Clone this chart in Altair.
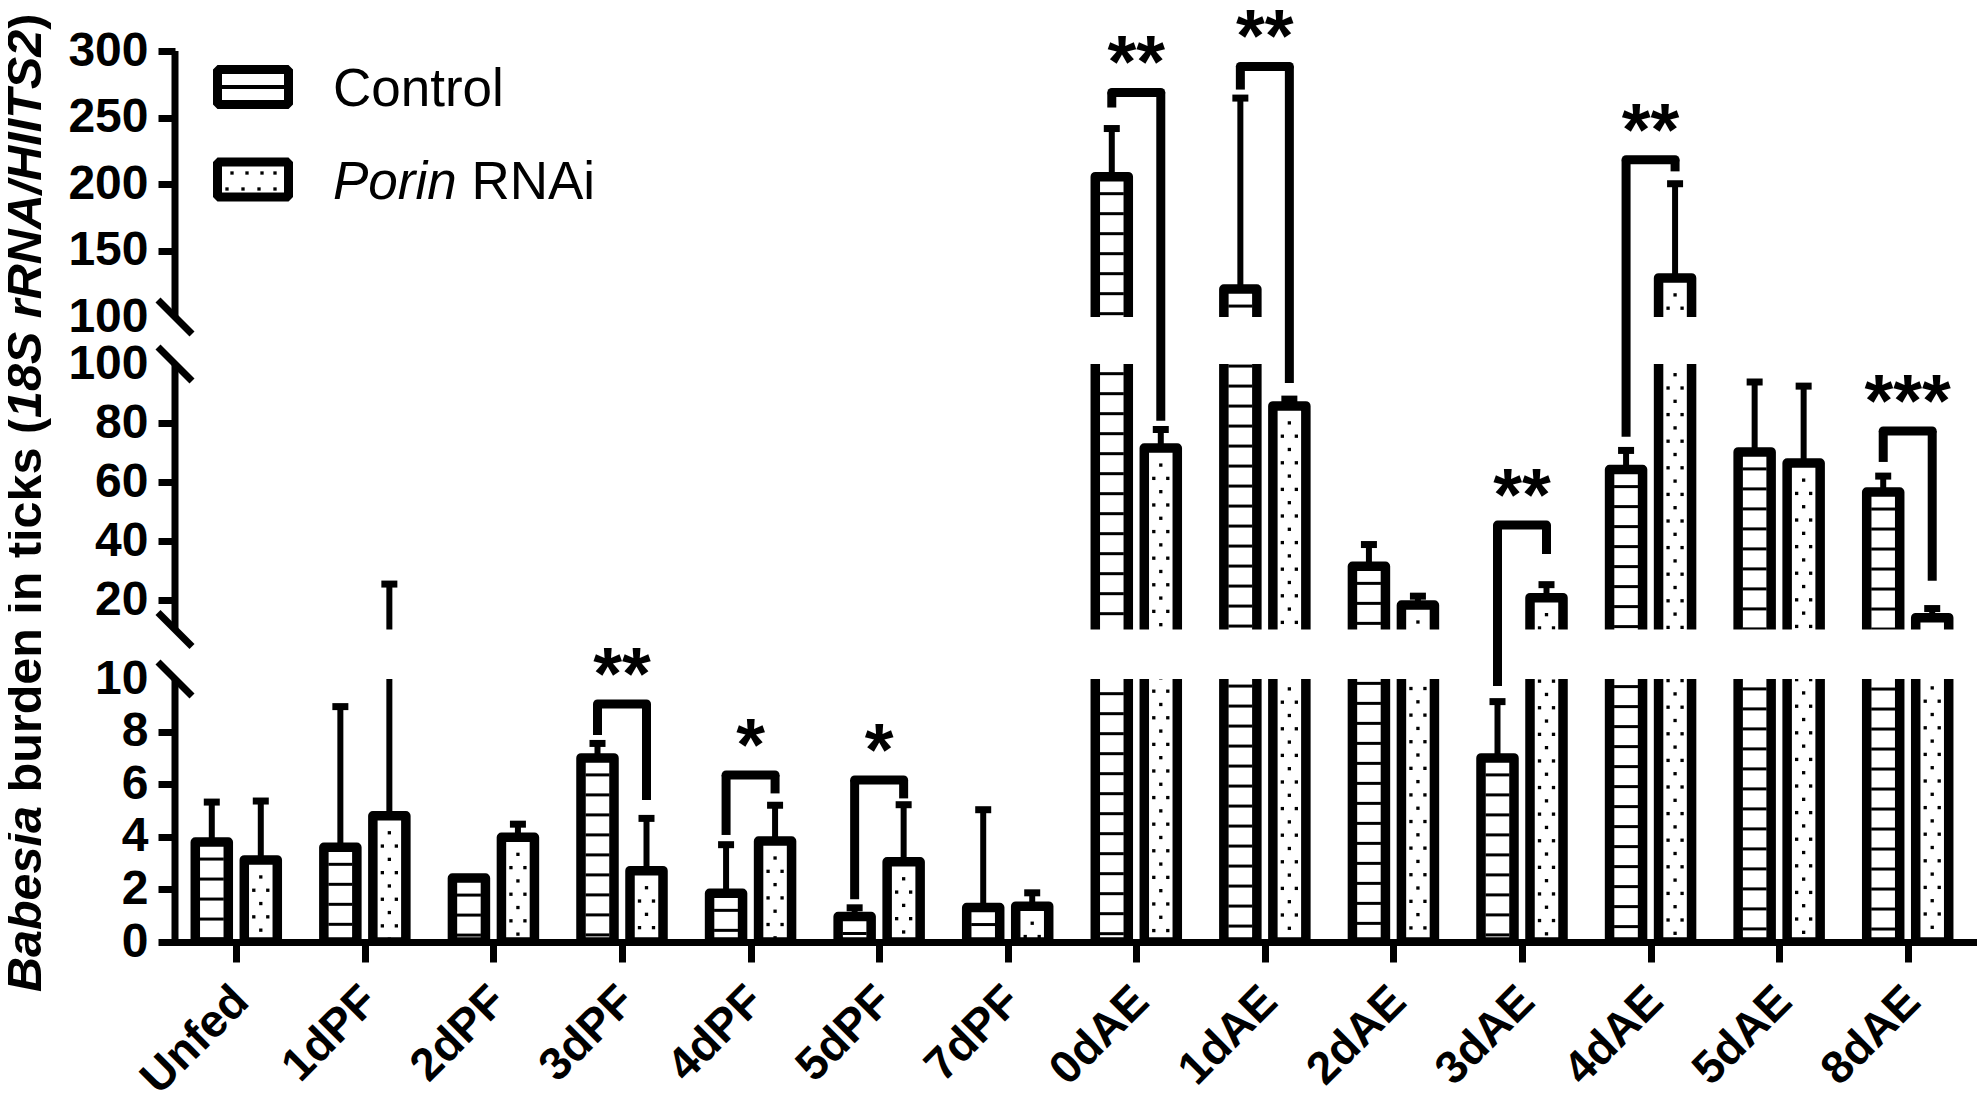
import altair as alt
import pandas as pd

# ---------------- data ----------------
categories = ["Unfed", "1dPF", "2dPF", "3dPF", "4dPF", "5dPF", "7dPF",
              "0dAE", "1dAE", "2dAE", "3dAE", "4dAE", "5dAE", "8dAE"]
control_mean = [3.8, 3.6, 2.43, 7.0, 1.85, 0.97, 1.31, 205.5, 121.0, 31.4, 7.0, 64.2, 70.2, 56.6]
control_upper = [5.32, 8.95, 2.45, 7.55, 3.7, 1.3, 5.03, 241.7, 264.6, 38.8, 9.14, 70.7, 93.9, 62.0]
porin_mean = [3.12, 4.8, 3.98, 2.71, 3.84, 3.05, 1.36, 71.5, 85.8, 18.3, 20.8, 129.4, 66.4, 14.0]
porin_upper = [5.36, 25.4, 4.48, 4.7, 5.2, 5.22, 1.87, 77.8, 88.1, 21.3, 25.2, 200.2, 92.5, 17.1]

sig_groups = ["3dPF", "4dPF", "5dPF", "0dAE", "1dAE", "3dAE", "4dAE", "8dAE"]
sig_labels = ["**", "*", "*", "**", "**", "**", "**", "***"]
sig_top = [9.05, 6.35, 6.16, 268.8, 288.4, 45.4, 218.3, 77.3]
sig_left_end = [7.87, 4.07, 1.63, 257.5, 271.0, 9.73, 75.3, 66.8]
sig_right_end = [5.4, 5.65, 5.46, 80.8, 93.6, 35.6, 209.5, 26.5]

# broken axis: segments 0-10, 10-100, 100-300
seg_low = [0, 10, 100]
seg_high = [9.9999, 99.9999, 300]
y_tick_values = [0, 2, 4, 6, 8, 9.9999, 20, 40, 60, 80, 99.9999, 100, 150, 200, 250, 300]

# ---------------- tables ----------------
n = len(categories)
ctrl = pd.DataFrame({"i": list(range(n)), "mean": control_mean, "hi": control_upper})
por = pd.DataFrame({"i": list(range(n)), "mean": porin_mean, "hi": porin_upper})
sig = pd.DataFrame({"i": [categories.index(g) for g in sig_groups], "label": sig_labels,
                    "top": sig_top, "left_end": sig_left_end, "right_end": sig_right_end})
segs = pd.DataFrame({"a": seg_low, "b": seg_high})
breaks = pd.DataFrame({"v": [9.9999, 10, 99.9999, 100]})
gaps = pd.DataFrame({"lo": [9.9999, 99.9999], "hi": [10, 100]})

# fill textures (horizontal stripes for Control, dots for Porin RNAi)
hatch = pd.DataFrame([{"i": i, "mean": control_mean[i], "k": k}
                      for i in range(n) for k in range(47)])
dot_rows = []
for i in range(n):
    for j in range(72):
        for dx in ([0] if j % 2 == 0 else [-7, 7]):
            dot_rows.append({"i": i, "mean": porin_mean[i], "j": j, "dx": dx})
dots = pd.DataFrame(dot_rows)
one = pd.DataFrame({"n": [0]})

# ---------------- geometry / style ----------------
W, H = 1810, 934
OFF = 24.5
FONT = "Liberation Sans"

x_scale = alt.Scale(domain=[-0.5, n - 0.5], nice=False, zero=False)
y_scale = alt.Scale(domain=[0, 10, 10, 100, 100, 300],
                    range=[934, 671, 621.5, 356, 309, 43], nice=False, zero=False)

label_expr = "[" + ",".join("'%s'" % c for c in categories) + "][datum.value]"
x_axis = alt.Axis(values=list(range(n)), labelExpr=label_expr, title=None, grid=False,
                  domain=True, domainWidth=7, domainColor="black", tickSize=20, tickWidth=7,
                  tickColor="black", labelAngle=-45, labelAlign="right",
                  labelBaseline="top", labelOffset=-11, labelPadding=16,
                  labelFont=FONT, labelFontSize=46, labelFontWeight="bold",
                  labelColor="black", labelOverlap=False, labelBound=False,
                  labelFlush=False, zindex=1)
y_axis = alt.Axis(values=y_tick_values, labelExpr="'' + round(datum.value)", title=None,
                  grid=False, domain=False, tickSize=17, tickWidth=7, tickColor="black",
                  tickOpacity=alt.condition("datum.value == 100 || datum.value != round(datum.value)",
                                            alt.value(0), alt.value(1)),
                  labelPadding=10, labelFont=FONT, labelFontSize=48, labelFontWeight="bold",
                  labelColor="black", labelOverlap=False, labelBound=False, labelFlush=False,
                  offset=-8, zindex=1)


def X(field):
    return alt.X(field, type="quantitative", scale=x_scale, axis=x_axis)


def Y(field):
    return alt.Y(field, type="quantitative", scale=y_scale, axis=y_axis)


# white cover over the plot frame edges (no frame in the reference)
frame_cover = [
    alt.Chart(one).mark_rule(color="white", strokeWidth=4).encode(
        x=alt.value(0), y=alt.value(0), y2=alt.value(H)),
    alt.Chart(one).mark_rule(color="white", strokeWidth=4).encode(
        x=alt.value(0), x2=alt.value(W), y=alt.value(0)),
    alt.Chart(one).mark_rule(color="white", strokeWidth=4).encode(
        x=alt.value(W), y=alt.value(0), y2=alt.value(H - 6)),
]

bar_style = dict(size=33, fill="white", stroke="black", strokeWidth=9.5,
                 strokeJoin="round", clip=True)

bars_c = alt.Chart(ctrl).mark_bar(xOffset=-OFF, **bar_style).encode(
    x=X("i"), y=Y("mean"), y2=alt.datum(0))
bars_p = alt.Chart(por).mark_bar(xOffset=OFF, **bar_style).encode(
    x=X("i"), y=Y("mean"), y2=alt.datum(0))

stripes = alt.Chart(hatch).mark_tick(
    orient="horizontal", size=24, thickness=3, color="black", opacity=1,
    xOffset=-OFF, yOffset={"expr": "17 + 20*datum.k"}, clip=True
).encode(x=X("i"), y=Y("mean"))

dotfill = alt.Chart(dots).mark_square(
    size=11, color="black", opacity=1, filled=True,
    xOffset={"expr": "24.5 + datum.dx"}, yOffset={"expr": "17 + 13.3*datum.j"}, clip=True
).encode(x=X("i"), y=Y("mean"))

err_c = alt.Chart(ctrl).mark_rule(color="black", strokeWidth=6, xOffset=-OFF).encode(
    x=X("i"), y=Y("mean"), y2=alt.Y2("hi"))
err_p = alt.Chart(por).mark_rule(color="black", strokeWidth=6, xOffset=OFF).encode(
    x=X("i"), y=Y("mean"), y2=alt.Y2("hi"))
cap_c = alt.Chart(ctrl).mark_tick(orient="horizontal", size=16, thickness=7, color="black",
                                   opacity=1, xOffset=-OFF).encode(x=X("i"), y=Y("hi"))
cap_p = alt.Chart(por).mark_tick(orient="horizontal", size=16, thickness=7, color="black",
                                  opacity=1, xOffset=OFF).encode(x=X("i"), y=Y("hi"))

gap_cover = alt.Chart(gaps).mark_rect(color="white").encode(
    x=alt.value(0), x2=alt.value(W), y=Y("lo"), y2=alt.Y2("hi"))

axis_segs = alt.Chart(segs).mark_rule(color="black", strokeWidth=7).encode(
    x=alt.value(8), y=Y("a"), y2=alt.Y2("b"))
axis_breaks = alt.Chart(breaks).mark_rule(color="black", strokeWidth=7,
                                          yOffset=-17, y2Offset=17).encode(
    x=alt.value(-9), x2=alt.value(25), y=Y("v"), y2=alt.Y2("v"))

br_h = alt.Chart(sig).mark_rule(color="black", strokeWidth=9, strokeCap="round",
                                xOffset=-OFF, x2Offset=OFF).encode(
    x=X("i"), x2=alt.X2("i"), y=Y("top"))
br_l = alt.Chart(sig).mark_rule(color="black", strokeWidth=9, xOffset=-OFF).encode(
    x=X("i"), y=Y("top"), y2=alt.Y2("left_end"))
br_r = alt.Chart(sig).mark_rule(color="black", strokeWidth=9, xOffset=OFF).encode(
    x=X("i"), y=Y("top"), y2=alt.Y2("right_end"))
stars = alt.Chart(sig).mark_text(font=FONT, fontSize=74, fontWeight="bold", color="black",
                                 align="center", baseline="alphabetic", dy=-5).encode(
    x=X("i"), y=Y("top"), text="label:N")

# ---------------- legend ----------------
leg = []
for y0, y1 in [(61.5, 96.5), (154, 189)]:
    leg.append(alt.Chart(one).mark_rect(fill="white", stroke="black", strokeWidth=9,
                                        strokeJoin="bevel").encode(
        x=alt.value(50.5), x2=alt.value(121.5), y=alt.value(y0), y2=alt.value(y1)))
leg.append(alt.Chart(one).mark_rule(color="black", strokeWidth=4).encode(
    x=alt.value(55), x2=alt.value(117), y=alt.value(79)))
for px, py in [(65, 165), (80, 165), (95, 165), (108, 165),
               (60, 181), (76, 181), (92, 181), (108, 181)]:
    leg.append(alt.Chart(one).mark_square(size=11, color="black", opacity=1).encode(
        x=alt.value(px), y=alt.value(py)))
leg.append(alt.Chart(one).mark_text(font=FONT, fontSize=53, align="left",
                                    baseline="alphabetic", color="black").encode(
    x=alt.value(166), y=alt.value(98), text=alt.value("Control")))
leg.append(alt.Chart(one).mark_text(font=FONT, fontSize=53, fontStyle="italic", align="left",
                                    baseline="alphabetic", color="black").encode(
    x=alt.value(166), y=alt.value(191), text=alt.value("Porin")))
leg.append(alt.Chart(one).mark_text(font=FONT, fontSize=53, align="left",
                                    baseline="alphabetic", color="black").encode(
    x=alt.value(304.4), y=alt.value(191), text=alt.value("RNAi")))

# ---------------- y title (mixed italic) ----------------
title_parts = [("Babesia", "italic", 984), ("burden in ticks (", "normal", 784.5),
               ("18S rRNA/HIITS2", "italic", 409.9), (")", "normal", 21.8)]
ttl = []
for txt, style, ypos in title_parts:
    ttl.append(alt.Chart(one).mark_text(font=FONT, fontSize=48.5, fontWeight="bold",
                                        fontStyle=style, angle=270, align="left",
                                        baseline="alphabetic", color="black").encode(
        x=alt.value(-126), y=alt.value(ypos), text=alt.value(txt)))

chart = alt.layer(
    *frame_cover,
    bars_c, bars_p, stripes, dotfill, err_c, err_p, cap_c, cap_p,
    gap_cover, axis_segs, axis_breaks, br_h, br_l, br_r, stars, *leg, *ttl
).properties(
    width=W, height=H,
    padding={"left": 159, "top": 0, "right": 0, "bottom": 153},
    autosize=alt.AutoSizeParams(type="none"),
).configure(
    background="white",
    view=alt.ViewConfig(stroke="transparent", strokeWidth=0, strokeOpacity=0),
    axis=alt.AxisConfig(grid=False, domain=False),
    style={"cell": {"stroke": "transparent", "strokeWidth": 0}},
)

chart.save("out.html", embed_options={"renderer": "svg", "actions": False})
